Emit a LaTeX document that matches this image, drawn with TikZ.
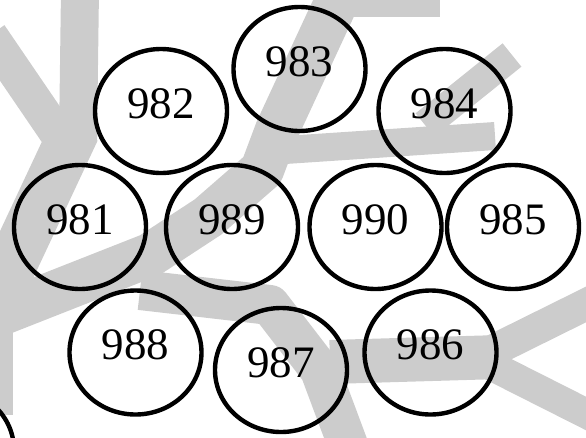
\documentclass[tikz,border=0pt]{standalone}
\usepackage{fontspec}
\setmainfont{Liberation Serif}
\usetikzlibrary{shapes.geometric}

\begin{document}
\begin{tikzpicture}[x=1pt, y=-1pt,
      ring/.style={draw, ellipse, line width=4.4pt,
                   minimum width=132pt, minimum height=124pt,
                   text height=30pt, text depth=16pt,
                   font=\fontsize{45}{50}\selectfont},
      band/.style={draw=black!20, line cap=butt, line join=round}]
    \useasboundingbox (0,0) rectangle (586,437);
    \draw[band, line width=38pt] (80,-10) -- (78,140);
    \draw[band, line width=35pt] (-10,35) -- (65,145);
    \draw[band, line width=50pt] (75,130) -- (0,290);
    \draw[band, line width=26pt] (0,290) -- (0,415);
    \draw[band, line width=44pt] (342,-10) -- (277,130) -- (262,170)
                                 -- (208,217) -- (150,255) -- (-10,318);
    \draw[band, line width=17pt] (315,8) -- (440,8);
    \draw[band, line width=28pt] (255,152) -- (495,136);
    \draw[band, line width=30pt] (512,55) -- (425,125);
    \draw[band, line width=40pt] (140,290) -- (270,305) -- (320,370) -- (348,445);
    \draw[band, line width=44pt] (330,362) -- (500,357);
    \draw[band, line width=32pt] (490,352) -- (595,300);
    \draw[band, line width=30pt] (490,365) -- (595,418);
    \node[ring] (c983) at (299.5,69)   {983};
    \node[ring] (c982) at (161,111)    {982};
    \node[ring] (c984) at (444.5,111)  {984};
    \node[ring] (c981) at (80,227)     {981};
    \node[ring] (c989) at (232,227)    {989};
    \node[ring] (c990) at (375.5,227)  {990};
    \node[ring] (c985) at (513,227)    {985};
    \node[ring] (c988) at (135.5,352.5) {988};
    \node[ring] (c987) at (281,370)    {987};
    \node[ring] (c986) at (430.5,352.5) {986};
    \node[ring] (cend) at (-52,450)    {};
  \end{tikzpicture}
\end{document}
